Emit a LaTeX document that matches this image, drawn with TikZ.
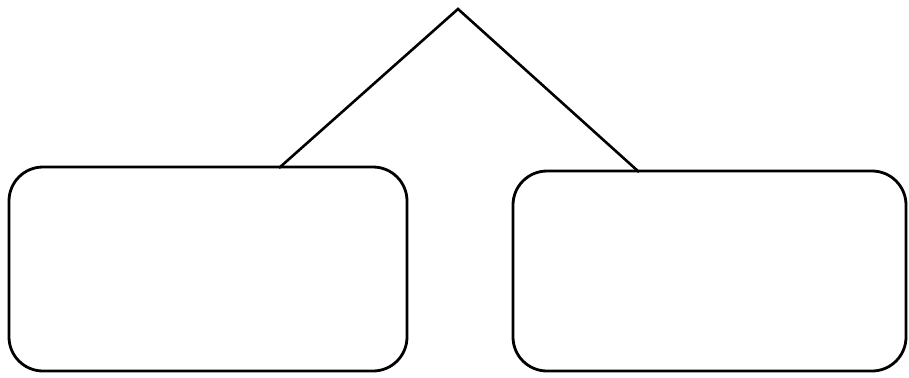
\documentclass[tikz,border=0pt]{standalone}
\begin{document}
\begin{tikzpicture}[x=0.5pt,y=-0.5pt,
  boxstyle/.style={draw=black,line width=1.4pt,rounded corners=17pt},
  linkstyle/.style={draw=black,line width=1.3pt}]
\useasboundingbox (0,0) rectangle (909,377);
\path[boxstyle] (9,167) rectangle (407,371);
\path[boxstyle] (513,171) rectangle (906,371);
\coordinate (apex) at (458,9);
\coordinate (lt) at (279,168);
\coordinate (rt) at (639,172);
\draw[linkstyle] (lt) -- (apex) -- (rt);
\end{tikzpicture}
\end{document}
